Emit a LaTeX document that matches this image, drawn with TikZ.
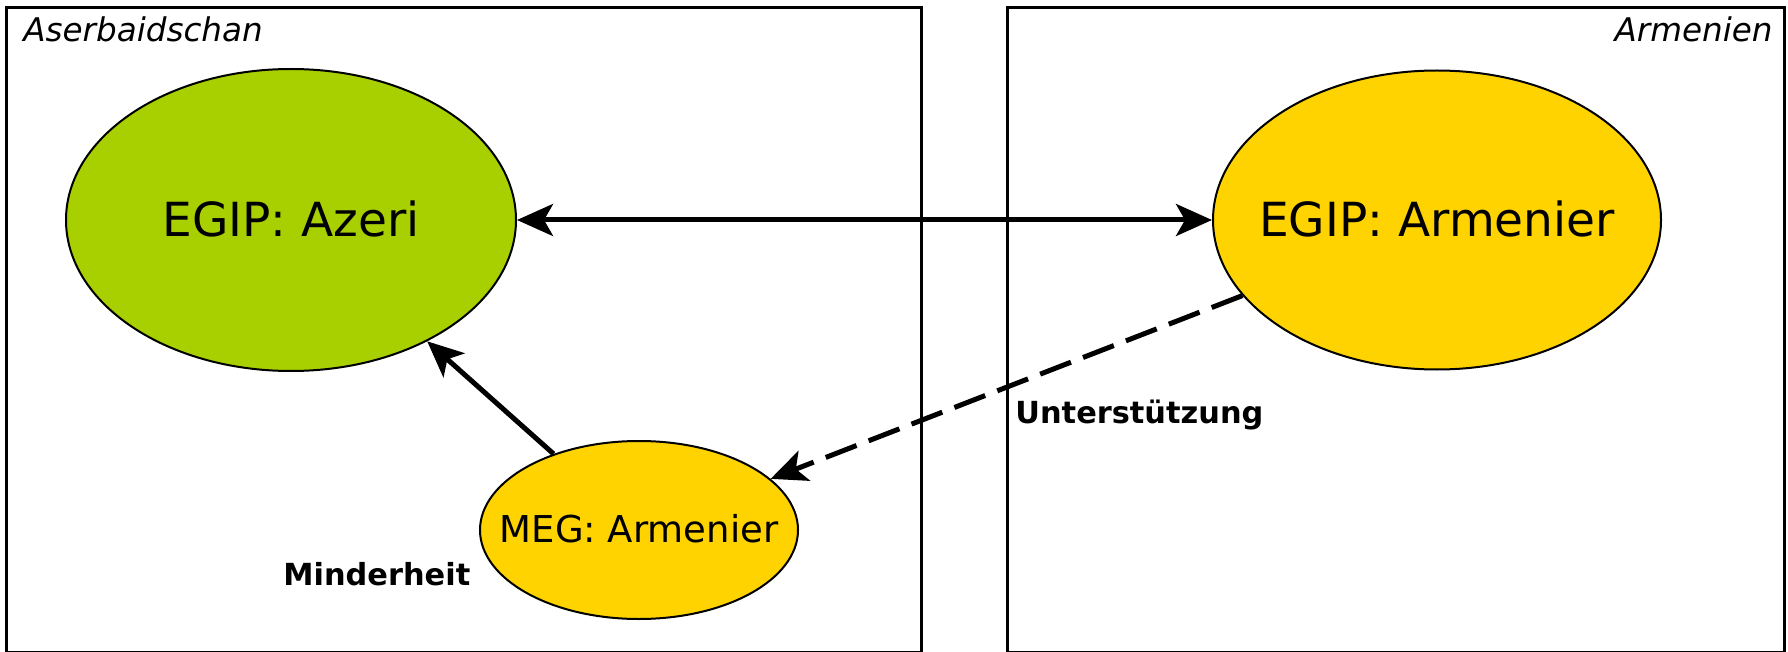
\documentclass[tikz,border=0pt]{standalone}
\usepackage{fontspec}
\setmainfont{DejaVu Sans}
\usetikzlibrary{shapes.geometric,arrows.meta}
\definecolor{egipgreen}{RGB}{168,208,0}
\definecolor{egipyellow}{RGB}{255,211,0}
\tikzset{
  region/.style={draw=black, line width=1.3pt},
  actor/.style={ellipse, draw=black, line width=1pt, inner sep=0pt},
  bigtext/.style={anchor=base, inner sep=0pt, font=\fontsize{23.5}{28}\selectfont},
  smalltext/.style={anchor=base, inner sep=0pt, font=\fontsize{18.5}{22}\selectfont},
  regionname/.style={anchor=base, inner sep=0pt, font=\fontsize{16.3}{20}\selectfont\itshape},
  relname/.style={anchor=base west, inner sep=0pt, font=\fontsize{15.2}{18}\selectfont\bfseries},
  rel/.style={line width=2.5pt, -{Stealth[length=18pt, width=16pt, inset=4.5pt]}},
  dualrel/.style={line width=2.5pt, {Stealth[length=18pt, width=16pt, inset=4.5pt]}-{Stealth[length=18pt, width=16pt, inset=4.5pt]}},
}
\begin{document}
\begin{tikzpicture}[x=0.5pt, y=-0.5pt]
\useasboundingbox (0,0) rectangle (1788,652);
\fill[white] (0,0) rectangle (1788,652);

% country regions
\node[region, rectangle, inner sep=0pt, minimum width=457.5pt, minimum height=322.5pt, anchor=north west] (aze) at (5,6) {};
\node[region, rectangle, inner sep=0pt, minimum width=388.5pt, minimum height=322.5pt, anchor=north west] (arm) at (1006,6) {};
\node[regionname, anchor=base west] (azename) at (23,42) {Aserbaidschan};
\node[regionname, anchor=base east] (armname) at (1773,42) {Armenien};

% groups
\node[actor, fill=egipgreen, minimum width=225pt, minimum height=151pt] (azeri) at (291,220) {};
\node[actor, fill=egipyellow, minimum width=224pt, minimum height=149.5pt] (armenier) at (1437,220) {};
\node[actor, fill=egipyellow, minimum width=159pt, minimum height=89pt] (meg) at (639,530) {};

\node[bigtext] (azerilabel) at (291,237) {EGIP: Azeri};
\node[bigtext] (armenierlabel) at (1437,237) {EGIP: Armenier};
\node[smalltext] (meglabel) at (639,542) {MEG: Armenier};

% relations
\draw[dualrel] (azeri) -- (armenier);
\draw[rel] (meg) -- (azeri);
\draw[rel, dash pattern=on 16.5pt off 6.5pt] (armenier) -- (meg);

\node[relname] (support) at (1015,423) {Unterstützung};
\node[relname] (minority) at (283,585) {Minderheit};
\end{tikzpicture}
\end{document}
